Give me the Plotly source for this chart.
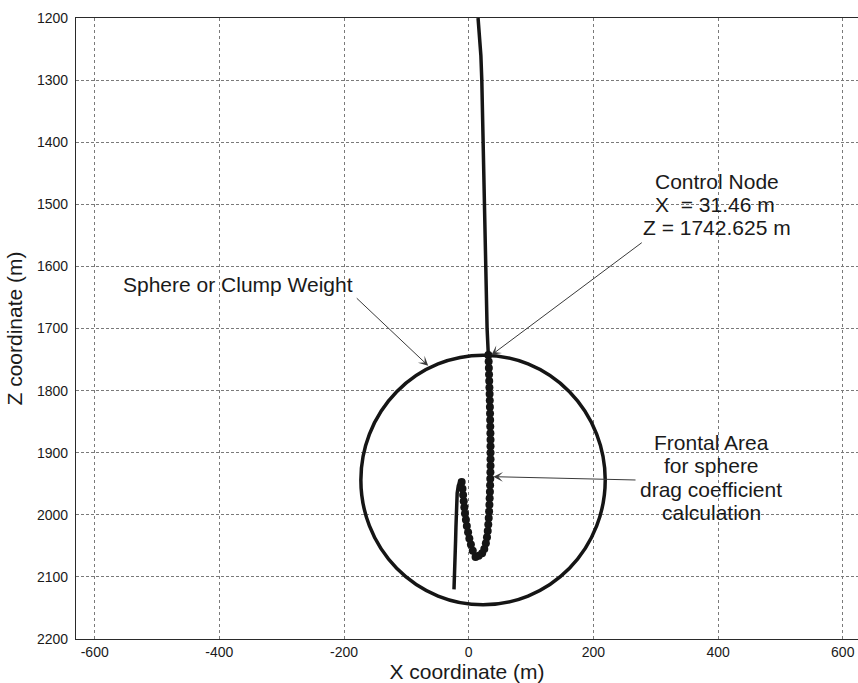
import plotly.graph_objects as go

# ---------------- data ----------------
# upper cable (no markers), from the top of the view down to the control node
upper_x = [15.0, 17.5, 19.5, 21.0, 23.0, 25.0, 27.0, 29.5]
upper_z = [1200, 1230, 1260, 1300, 1400, 1500, 1600, 1700]

# discretised nodes (markers) from the control node down and around the loop
node_x = [31.46, 32.0, 32.3, 32.6, 32.9, 33.2, 33.5, 33.8, 34.0, 34.2, 34.4,
          34.6, 34.8, 35.0, 35.0, 35.0, 35.0, 35.0, 34.8, 34.6, 34.3, 34.0,
          33.6, 33.2, 32.7, 32.1, 31.4, 30.5, 29.3, 27.5, 25.0, 21.5,
          16.0, 11.0, 6.5, 3.5, 1.0, -1.0, -3.0, -4.5, -6.0, -7.0, -8.0,
          -9.0, -10.0, -11.3]
node_z = [1742.625, 1753, 1763.5, 1774, 1784.5, 1795, 1805.5, 1816, 1826.5,
          1837, 1847.5, 1858, 1868.5, 1879, 1889.5, 1900, 1910.5, 1921,
          1931.5, 1942, 1952.5, 1963, 1973.5, 1984, 1994.5, 2005, 2015.5,
          2026, 2036, 2046, 2055, 2062,
          2066, 2068, 2058, 2048, 2038, 2028, 2018, 2008, 1998, 1988, 1978,
          1968, 1958, 1947]

# lower tail after the peak (no markers)
tail_x = [-14.0, -16.7, -18.5, -19.3, -20.0, -20.5, -21.0, -22.0, -23.0, -23.6]
tail_z = [1946, 1953, 1965, 1980, 2000, 2020, 2040, 2068, 2095, 2120]

# sphere / clump weight
sphere_cx, sphere_cz = 23.0, 1944.0
sphere_rx, sphere_rz = 196.0, 201.0

# control node
control_x, control_z = 31.46, 1742.625

x_ticks = [-600, -400, -200, 0, 200, 400, 600]
z_ticks = [1200, 1300, 1400, 1500, 1600, 1700, 1800, 1900, 2000, 2100, 2200]

# ---------------- figure ----------------
FONT = "Liberation Sans, Arial, sans-serif"
INK = "#151515"
TEXT = "#1a1a1a"

line_x = upper_x + node_x + tail_x
line_z = upper_z + node_z + tail_z

fig = go.Figure()
fig.add_trace(go.Scatter(x=line_x, y=line_z, mode="lines",
                         line=dict(color=INK, width=3.5),
                         hoverinfo="skip", showlegend=False))
fig.add_trace(go.Scatter(x=node_x, y=node_z, mode="markers",
                         marker=dict(color=INK, size=8, line=dict(width=0)),
                         hoverinfo="skip", showlegend=False))

fig.add_shape(type="circle", xref="x", yref="y",
              x0=sphere_cx - sphere_rx, x1=sphere_cx + sphere_rx,
              y0=sphere_cz - sphere_rz, y1=sphere_cz + sphere_rz,
              line=dict(color=INK, width=3.5), layer="above")

TXT = dict(family=FONT, size=21, color=TEXT)

def label(text, x, y):
    fig.add_annotation(x=x, y=y, xref="x", yref="y", text=text,
                       showarrow=False, font=TXT,
                       xanchor="center", yanchor="middle")

def arrow(x_tail, z_tail, x_head, z_head):
    fig.add_annotation(x=x_head, y=z_head, ax=x_tail, ay=z_tail,
                       xref="x", yref="y", axref="x", ayref="y",
                       text="", showarrow=True, arrowhead=3,
                       arrowsize=1.6, arrowwidth=1, arrowcolor="#3a3a3a",
                       standoff=0, startstandoff=0)

label("Control Node", 398, 1463)
label(f"X  = {control_x} m", 395, 1500)
label(f"Z = {control_z} m", 398, 1537)
arrow(280, 1560, control_x + 5, control_z)

label("Sphere or Clump Weight", -370, 1629)
arrow(-182, 1649, -65, 1760)

label("Frontal Area", 389, 1883)
label("for sphere", 389, 1921)
label("drag coefficient", 389, 1959)
label("calculation", 389, 1996)
arrow(270, 1944, 39.5, 1938.6)

GRID = "#7a7a7a"
fig.update_layout(
    width=858, height=683,
    margin=dict(l=76, r=0, t=18, b=44),
    paper_bgcolor="white", plot_bgcolor="white",
    font=dict(family=FONT, color=TEXT),
    xaxis=dict(range=[-630, 624.5], tickvals=x_ticks,
               ticktext=[str(v) for v in x_ticks],
               showgrid=True, gridcolor=GRID, griddash="dot", gridwidth=1,
               zeroline=False, showline=True, mirror=True,
               linecolor="#2a2a2a", linewidth=1.3, ticks="",
               tickfont=dict(size=14, color=TEXT),
               title=dict(text="X coordinate (m)",
                          font=dict(size=21, color=TEXT), standoff=6)),
    yaxis=dict(range=[2200, 1200], tickvals=z_ticks,
               ticktext=[str(v) for v in z_ticks],
               showgrid=True, gridcolor=GRID, griddash="3px,2px", gridwidth=1,
               zeroline=False, showline=True, mirror=False,
               linecolor="#2a2a2a", linewidth=1.3, ticks="",
               ticklabelstandoff=4,
               tickfont=dict(size=14, color=TEXT),
               title=dict(text="Z coordinate (m)",
                          font=dict(size=21, color=TEXT), standoff=8)),
)

fig.write_html("out.html")
